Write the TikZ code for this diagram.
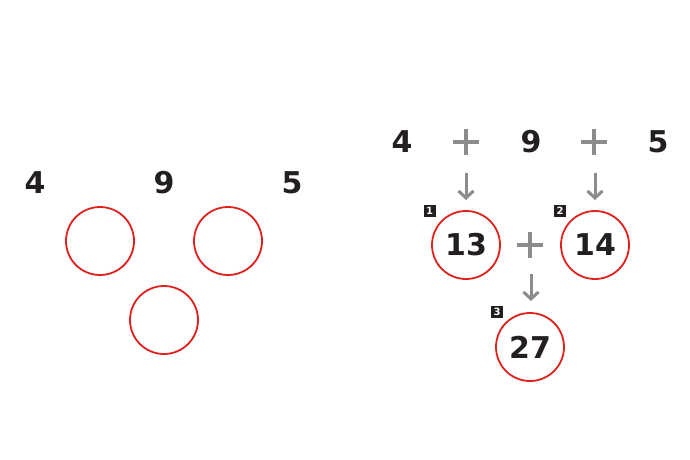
\documentclass[tikz,border=0pt]{standalone}
\usepackage{fontspec}
\setmainfont{DejaVu Sans}
\usetikzlibrary{arrows.meta}
\definecolor{cred}{HTML}{E0221E}
\definecolor{cgray}{HTML}{8C8C8C}
\definecolor{ctext}{HTML}{231F20}
\tikzset{
  num/.style={font=\fontsize{30}{31}\selectfont\bfseries, text=ctext, inner sep=0pt},
  ring/.style={circle, draw=cred, line width=1.8pt, minimum size=68pt, inner sep=0pt, font=\fontsize{30}{31}\selectfont\bfseries, text=ctext},
  badge/.style={fill=ctext, text=white, minimum size=12pt, inner sep=0pt, font=\fontsize{10}{10}\selectfont\bfseries},
  plusline/.style={draw=cgray, line width=3.2pt},
  garrow/.style={draw=cgray, line width=3pt, -{Straight Barb[length=7pt,width=15pt,line width=3pt]}},
}
\newcommand{\plussign}[2]{\draw[plusline] (#1-13,#2) -- (#1+13,#2) (#1,#2-13) -- (#1,#2+13);}
\begin{document}
\begin{tikzpicture}[x=1pt,y=-1pt]
\useasboundingbox (0,0) rectangle (690,460);
% left
\node[num] (la) at (35,183) {4};
\node[num] (lb) at (164,183) {9};
\node[num] (lc) at (292,183) {5};
\node[ring] (lr1) at (100,241) {};
\node[ring] (lr2) at (228,241) {};
\node[ring] (lr3) at (164,320) {};
% right
\node[num] (ra) at (402,142) {4};
\node[num] (rb) at (531,142) {9};
\node[num] (rc) at (658,142) {5};
\plussign{466}{142}
\plussign{594}{142}
\node[ring] (r13) at (466,245) {13};
\node[ring] (r14) at (595,245) {14};
\plussign{530}{245}
\node[ring] (r27) at (530,347) {27};
\coordinate (a1s) at (466,173);
\coordinate (a1e) at (466,200);
\coordinate (a2s) at (595,173);
\coordinate (a2e) at (595,200);
\coordinate (a3s) at (531,274);
\coordinate (a3e) at (531,301);
\draw[garrow] (a1s) -- (a1e);
\draw[garrow] (a2s) -- (a2e);
\draw[garrow] (a3s) -- (a3e);
\node[badge] (b1) at (429.5,211) {1};
\node[badge] (b2) at (560,211) {2};
\node[badge] (b3) at (497,311.5) {3};
\end{tikzpicture}
\end{document}
